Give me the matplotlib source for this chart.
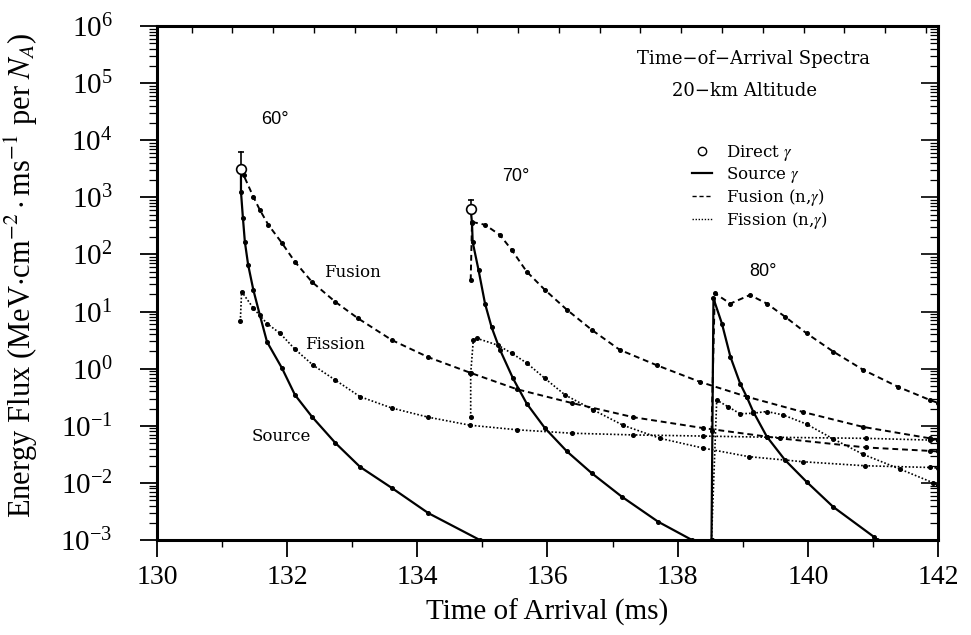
import numpy as np
import matplotlib
matplotlib.use("Agg")
import matplotlib.pyplot as plt
from matplotlib.lines import Line2D
from matplotlib.ticker import LogLocator, FixedLocator, NullFormatter

plt.rcParams['font.family'] = ['Liberation Serif', 'DejaVu Serif']
plt.rcParams['mathtext.fontset'] = 'stix'

# values: times in ms, fluxes as log10
direct_t = [131.29, 134.82]
direct_log = [3.50, 2.79]
direct_top_log = [3.80, 2.95]

src60_t = [131.29, 131.29, 131.32, 131.35, 131.40, 131.48, 131.58, 131.69, 131.92, 132.12,
           132.38, 132.74, 133.12, 133.61, 134.17, 134.96]
src60_log = [3.50, 3.10, 2.64, 2.22, 1.82, 1.38, 0.94, 0.47, 0.01, -0.46,
             -0.84, -1.30, -1.72, -2.09, -2.53, -3.0]

fus60_t = [131.29, 131.33, 131.48, 131.58, 131.71, 131.92, 132.12, 132.38, 132.74, 133.09,
           133.61, 134.17, 134.81, 135.53, 136.37, 137.32, 138.39, 139.57, 140.90, 141.88, 142.0]
fus60_log = [3.50, 3.39, 3.01, 2.78, 2.52, 2.20, 1.87, 1.52, 1.17, 0.88,
             0.50, 0.20, -0.07, -0.36, -0.60, -0.85, -1.04, -1.22, -1.38, -1.44, -1.45]

fis60_t = [131.28, 131.30, 131.48, 131.69, 131.89, 132.12, 132.40, 132.74, 133.12, 133.61,
           134.17, 134.81, 135.53, 136.37, 137.32, 138.39, 139.37, 140.90, 141.88, 142.0]
fis60_log = [0.83, 1.35, 1.06, 0.79, 0.62, 0.34, 0.06, -0.20, -0.49, -0.69,
             -0.85, -0.99, -1.07, -1.13, -1.16, -1.18, -1.20, -1.22, -1.25, -1.25]

src70_t = [134.82, 134.84, 134.85, 134.94, 135.04, 135.14, 135.27, 135.47, 135.68, 135.96,
           136.30, 136.68, 137.14, 137.70, 138.22]
src70_log = [2.79, 2.55, 2.22, 1.73, 1.14, 0.73, 0.33, -0.17, -0.61, -1.04,
             -1.45, -1.83, -2.24, -2.68, -3.0]

fus70_t = [134.82, 134.84, 135.04, 135.27, 135.45, 135.68, 135.96, 136.30, 136.68, 137.11,
           137.68, 138.34, 139.06, 139.93, 140.85, 141.88, 142.0]
fus70_log = [1.55, 2.57, 2.52, 2.34, 2.08, 1.70, 1.38, 1.03, 0.68, 0.33,
             0.06, -0.23, -0.49, -0.76, -1.02, -1.22, -1.25]

fis70_t = [134.82, 134.82, 134.86, 134.92, 135.24, 135.45, 135.68, 135.96, 136.27, 136.70,
           137.16, 137.73, 138.39, 139.09, 139.93, 140.88, 141.88, 142.0]
fis70_log = [-0.85, -0.08, 0.50, 0.53, 0.41, 0.27, 0.10, -0.17, -0.46, -0.72,
             -0.99, -1.22, -1.39, -1.54, -1.63, -1.70, -1.73, -1.74]

src80_t = [138.52, 138.55, 138.68, 138.81, 138.96, 139.06, 139.16, 139.37, 139.65, 139.98,
           140.39, 141.01, 141.06]
src80_log = [-3.0, 1.23, 0.79, 0.21, -0.26, -0.49, -0.75, -1.19, -1.60, -1.98,
             -2.42, -2.94, -3.0]

fus80_t = [138.52, 138.57, 138.81, 139.11, 139.37, 139.65, 139.98, 140.39, 140.85, 141.39,
           141.88, 142.0]
fus80_log = [-1.10, 1.32, 1.14, 1.29, 1.14, 0.91, 0.62, 0.30, -0.02, -0.32,
             -0.55, -0.60]

fis80_t = [138.52, 138.60, 138.78, 138.96, 139.16, 139.37, 139.62, 139.98, 140.39, 140.85,
           141.42, 141.93, 142.0]
fis80_log = [-3.0, -0.55, -0.67, -0.79, -0.78, -0.75, -0.81, -0.97, -1.23, -1.50,
             -1.76, -2.00, -2.04]

angle_labels = ["60°", "70°", "80°"]
angle_pos = [(131.81, 10**4.37), (135.52, 10**3.36), (139.31, 10**1.71)]
curve_labels = ["Fusion", "Fission", "Source"]
curve_pos = [(133.0, 10**1.69), (132.74, 10**0.43), (131.91, 10**-1.18)]

xticks = [130, 132, 134, 136, 138, 140, 142]

fig = plt.figure(figsize=(9.71, 6.35), dpi=100)
ax = fig.add_axes([0.1617, 0.1496, 0.8043, 0.8094])

solid = dict(color='black', lw=1.6, ls='-')
dashed = dict(color='black', lw=1.4, ls=(0, (3, 2)))
dotted = dict(color='black', lw=1.2, ls=(0, (1, 1.2)))
dots = dict(ls='none', marker='o', ms=2.6, color='black')

curves = [
    (src60_t, src60_log, solid), (fus60_t, fus60_log, dashed), (fis60_t, fis60_log, dotted),
    (src70_t, src70_log, solid), (fus70_t, fus70_log, dashed), (fis70_t, fis70_log, dotted),
    (src80_t, src80_log, solid), (fus80_t, fus80_log, dashed), (fis80_t, fis80_log, dotted),
]
for t, lg, style in curves:
    y = 10.0 ** np.array(lg)
    ax.plot(t, y, **style)
    ax.plot(t, y, **dots)

# direct gamma points with upper bar
for t, lg, top in zip(direct_t, direct_log, direct_top_log):
    ax.plot([t, t], [10**lg, 10**top], color='black', lw=1.2)
    ax.plot([t], [10**top], marker='_', ms=5, color='black', mew=1.2)
    ax.plot([t], [10**lg], marker='o', ms=7, mfc='white', mec='black', mew=1.2, zorder=5)

ax.set_yscale('log')
ax.set_xlim(130, 142)
ax.set_ylim(1e-3, 1e6)

for s in ax.spines.values():
    s.set_linewidth(2.2)

ax.set_xticks(xticks)
ax.set_xticks(np.arange(131, 142, 2), minor=True)
ax.tick_params(axis='x', which='major', direction='out', length=12, width=1.3, labelsize=20, pad=6)
ax.tick_params(axis='x', which='minor', direction='out', length=5, width=1.0)
ax.yaxis.set_major_locator(LogLocator(base=10, numticks=12))
ax.yaxis.set_minor_locator(LogLocator(base=10, subs=np.arange(2, 10), numticks=12))
ax.yaxis.set_minor_formatter(NullFormatter())
ax.tick_params(axis='y', which='major', direction='out', length=12, width=1.3, labelsize=21, pad=20)
ax.tick_params(axis='y', which='minor', direction='out', length=6, width=0.9)

# right side: inward ticks, no labels
axr = ax.twinx()
axr.set_yscale('log')
axr.set_ylim(1e-3, 1e6)
axr.yaxis.set_major_locator(LogLocator(base=10, numticks=12))
axr.yaxis.set_minor_locator(LogLocator(base=10, subs=np.arange(2, 10), numticks=12))
axr.tick_params(axis='y', which='major', direction='in', length=12, width=1.2, labelright=False)
axr.tick_params(axis='y', which='minor', direction='in', length=6, width=0.9, labelright=False)

# top: inward ticks
axt = ax.twiny()
axt.set_xlim(130, 142)
axt.xaxis.set_major_locator(FixedLocator(np.arange(130.53, 142, 0.627)))
axt.tick_params(axis='x', which='major', direction='in', length=5, width=1.0, labeltop=False)

ax.set_xlabel('Time of Arrival (ms)', fontsize=21, labelpad=6)
ax.set_ylabel(r'Energy Flux (MeV$\cdot$cm$^{-2}\cdot$ms$^{-1}$ per $N_A$)', fontsize=22)
ax.yaxis.set_label_coords(-0.150, 0.515)

inner = ['DejaVu Serif']
ax.text(0.764, 0.935, 'Time\u2212of\u2212Arrival Spectra', transform=ax.transAxes,
        ha='center', va='center', fontsize=13, family=inner)
ax.text(0.752, 0.874, '20\u2212km Altitude', transform=ax.transAxes,
        ha='center', va='center', fontsize=13, family=inner)

for lab, (x, y) in zip(angle_labels, angle_pos):
    ax.text(x, y, lab, ha='center', va='center', fontsize=13, family='Liberation Sans')
for lab, (x, y) in zip(curve_labels, curve_pos):
    ax.text(x, y, lab, ha='center', va='center', fontsize=12, family=inner)

handles = [
    Line2D([], [], ls='none', marker='o', ms=6, mfc='white', mec='black', mew=1.0),
    Line2D([], [], **solid),
    Line2D([], [], color='black', lw=1.0, ls=(0, (3, 2))),
    Line2D([], [], color='black', lw=1.0, ls=(0, (1, 1.2))),
]
names = [r'Direct $\gamma$', r'Source $\gamma$', r'Fusion (n,$\gamma$)', r'Fission (n,$\gamma$)']
ax.legend(handles, names, loc='upper left', bbox_to_anchor=(0.685, 0.772), frameon=False,
          prop={'family': inner, 'size': 12}, handlelength=1.2, handletextpad=0.85,
          labelspacing=0.12, borderpad=0, borderaxespad=0)

fig.savefig('out.png', dpi=100)
